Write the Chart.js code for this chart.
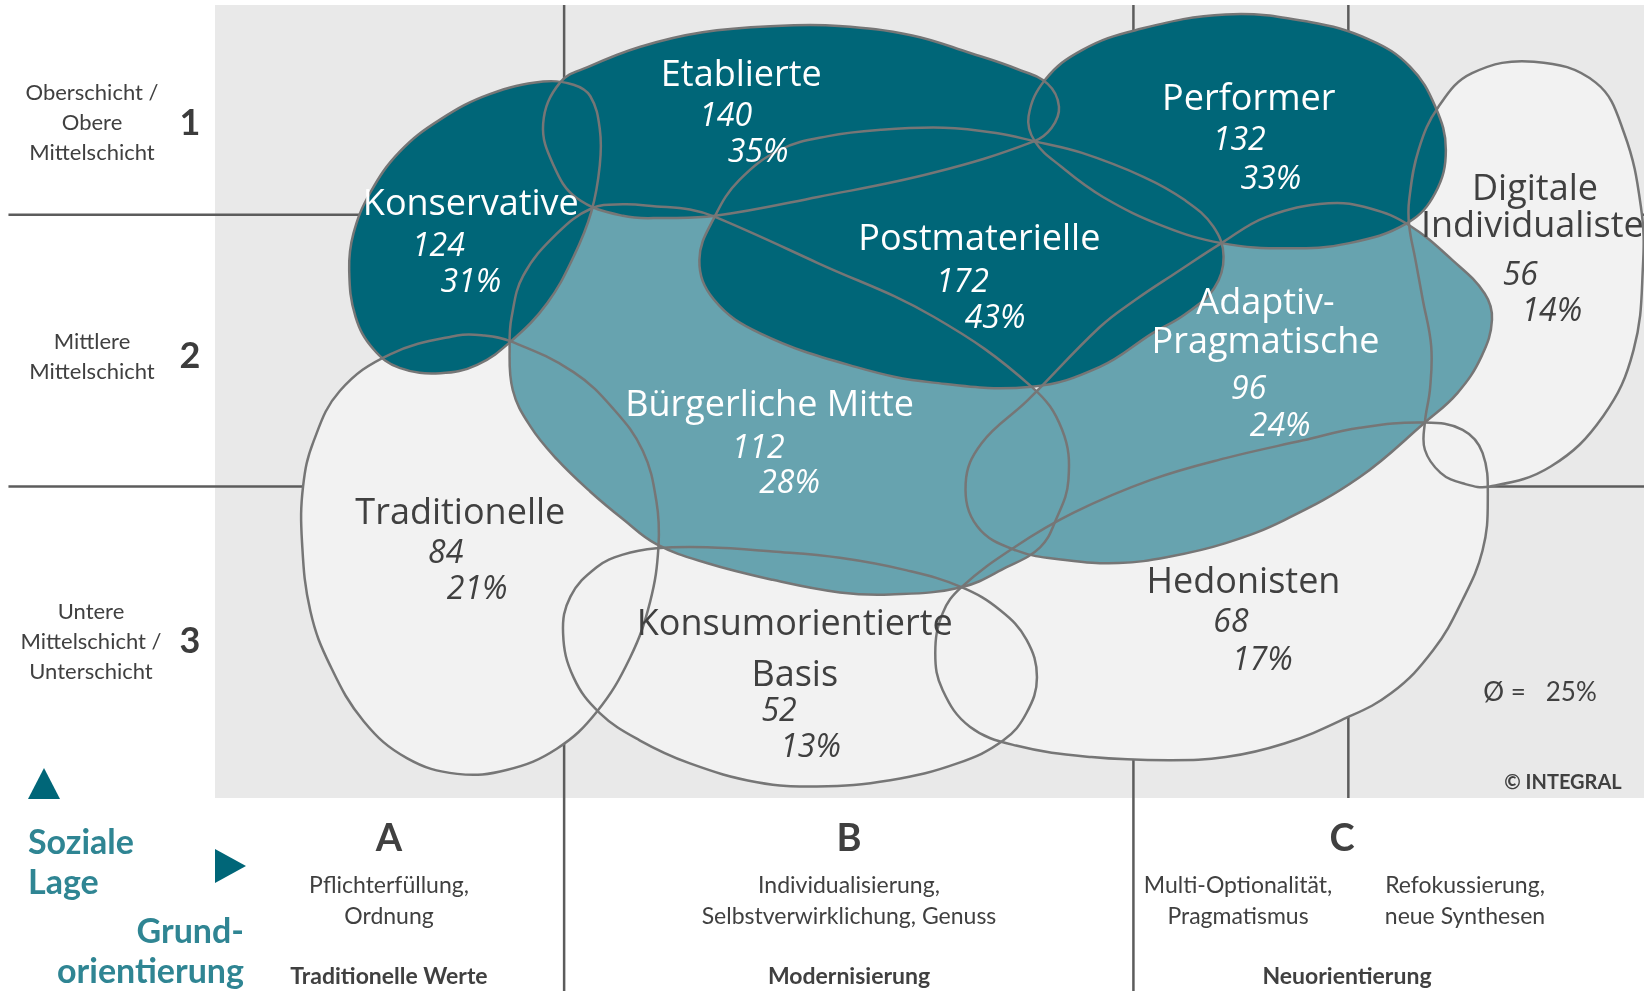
<!DOCTYPE html>
<html lang="de">
<head>
<meta charset="utf-8">
<title>Sinus-Milieus</title>
<script src="https://cdn.jsdelivr.net/npm/chart.js@4.4.1/dist/chart.umd.min.js"></script>
<style>
    html, body { margin: 0; padding: 0; background: #fff; }
    body { width: 1644px; height: 991px; position: relative; overflow: hidden;
           font-family: Lato, "Noto Sans", sans-serif; color: #404040; }
    #milieuChart { position: absolute; left: 0; top: 0; }
    .lbl { position: absolute; transform: translate(-50%, -50%); white-space: nowrap;
           text-align: center; font-size: 22px; line-height: 30px; }
    .desc { font-size: 23px; line-height: 31px; }
    .num { position: absolute; transform: translate(-50%, -50%); font-size: 36px; font-weight: 700; color: #3c3c3c; }
    .head { font-size: 38px; font-weight: 700; line-height: 40px; }
    .bold { font-weight: 700; font-size: 23px; }
    .teal { position: absolute; font-size: 34px; font-weight: 700; color: #2f8593; line-height: 40px; white-space: nowrap; }
    .tri-up { position: absolute; left: 28px; top: 768px; width: 0; height: 0;
              border-left: 16px solid transparent; border-right: 16px solid transparent; border-bottom: 31px solid #006678; }
    .tri-right { position: absolute; left: 215px; top: 849px; width: 0; height: 0;
                 border-top: 17px solid transparent; border-bottom: 17px solid transparent; border-left: 31px solid #006678; }
</style>
</head>
<body>
<canvas id="milieuChart" width="1644" height="991"></canvas>

<!-- Soziale Lage (left) -->
<div class="lbl" style="left:92px; top:122px;">Oberschicht /<br>Obere<br>Mittelschicht</div>
<div class="num" style="left:190px; top:121px;">1</div>
<div class="lbl" style="left:92px; top:356px;">Mittlere<br>Mittelschicht</div>
<div class="num" style="left:190px; top:354px;">2</div>
<div class="lbl" style="left:91px; top:641px;">Untere<br>Mittelschicht /<br>Unterschicht</div>
<div class="num" style="left:190px; top:639px;">3</div>

<div class="tri-up"></div>
<div class="tri-right"></div>
<div class="teal" style="left:28px; top:821px;">Soziale<br>Lage</div>
<div class="teal" style="right:1400px; top:910px; text-align:right;">Grund-<br>orientierung</div>

<!-- Grundorientierung (bottom) -->
<div class="lbl head" style="left:389px; top:836px;">A</div>
<div class="lbl head" style="left:849px; top:836px;">B</div>
<div class="lbl head" style="left:1342px; top:836px;">C</div>
<div class="lbl desc" style="left:389px; top:900px;">Pflichterfüllung,<br>Ordnung</div>
<div class="lbl desc" style="left:849px; top:900px;">Individualisierung,<br>Selbstverwirklichung, Genuss</div>
<div class="lbl desc" style="left:1238px; top:900px;">Multi-Optionalität,<br>Pragmatismus</div>
<div class="lbl desc" style="left:1465px; top:900px;">Refokussierung,<br>neue Synthesen</div>
<div class="lbl bold" style="left:389px; top:975px;">Traditionelle Werte</div>
<div class="lbl bold" style="left:849px; top:975px;">Modernisierung</div>
<div class="lbl bold" style="left:1347px; top:975px;">Neuorientierung</div>

<div class="lbl" style="left:1540px; top:691px; font-size:26px;">Ø =&nbsp;&nbsp;&nbsp;25%</div>
<div class="lbl bold" style="left:1563px; top:781px; font-size:20px;">© INTEGRAL</div>

<script>
// Milieus with case counts and shares
const milieus = ['Konservative', 'Etablierte', 'Performer', 'Postmaterielle', 'Digitale Individualisten',
                 'Adaptiv-Pragmatische', 'Bürgerliche Mitte', 'Traditionelle', 'Konsumorientierte Basis', 'Hedonisten'];
const counts = [124, 140, 132, 172, 56, 96, 112, 84, 52, 68];
const shares = [31, 35, 33, 43, 14, 24, 28, 21, 13, 17];

// Milieu outlines in map coordinates (x: Grundorientierung, y: soziale Lage)
const konservative = [[518,78],[547,81],[563,92],[572,123],[572,158],[564,202],[547,245],[522,289],[488,325],
    [455,348],[420,356],[381,351],[356,333],[339,302],[333,258],[337,223],[353,184],[381,145],[420,114],[467,90]];
const etablierte = [[534,79],[561,64],[610,45],[670,31],[740,25],[800,25],[870,34],[926,51],[970,66],[999,80],
    [1010,102],[1003,122],[986,135],[890,165],[780,188],[682,206],[634,208],[594,206],[550,189],[528,158],[518,118]];
const performer = [[1169,14],[1248,21],[1306,38],[1345,64],[1369,102],[1379,143],[1369,184],[1342,213],[1287,232],
    [1228,237],[1165,232],[1110,216],[1052,188],[1012,159],[987,135],[981,111],[997,76],[1032,48],[1083,29]];
const postmaterielle = [[682,206],[705,172],[744,143],[790,130],[840,124],[900,122],[950,127],[987,135],[1032,146],
    [1091,169],[1130,191],[1157,216],[1167,245],[1158,275],[1130,300],[1099,318],[1049,350],[984,369],[890,365],
    [816,350],[725,318],[681,286],[667,248]];
const digitale = [[1463,59],[1522,79],[1549,127],[1565,197],[1567,254],[1558,334],[1529,397],[1479,445],[1421,464],
    [1395,461],[1374,451],[1359,429],[1359,403],[1364,370],[1365,330],[1357,286],[1350,248],[1344,215],[1344,191],
    [1353,143],[1372,102],[1404,70]];
const adaptiv = [[1165,232],[1208,207],[1267,194],[1307,199],[1344,215],[1385,248],[1416,280],[1423,305],[1413,340],
    [1390,375],[1359,403],[1297,455],[1225,496],[1169,518],[1115,531],[1067,537],[1016,534],[969,525],[932,502],
    [921,461],[936,423],[980,382],[1049,312],[1083,286],[1122,260]];
const buergerliche = [[564,199],[594,195],[626,197],[658,200],[682,207],[780,251],[890,302],[984,369],[1013,410],
    [1019,458],[1007,496],[992,522],[960,541],[917,560],[849,567],[801,565],[737,553],[674,537],[626,519],[594,495],
    [563,469],[531,438],[506,407],[489,372],[486,329],[488,302],[499,263],[531,223]];
const traditionelle = [[436,320],[461,320],[488,326],[547,355],[585,390],[613,430],[626,478],[628,521],[620,574],
    [601,627],[569,679],[531,714],[484,734],[436,738],[388,723],[347,688],[315,635],[296,583],[288,517],[289,464],
    [299,421],[324,373],[372,338]];
const konsum = [[626,523],[674,522],[737,526],[801,532],[865,544],[917,560],[954,582],[979,610],[989,646],[979,680],
    [957,706],[913,728],[849,744],[779,750],[722,746],[658,728],[610,706],[572,680],[547,646],[537,604],[544,569],
    [569,541],[594,529]];
const hedonisten = [[917,560],[969,521],[1024,489],[1097,458],[1169,437],[1243,420],[1297,408],[1359,403],[1395,410],
    [1414,432],[1419,477],[1414,525],[1395,572],[1367,620],[1327,661],[1279,687],[1225,709],[1169,722],[1115,725],
    [1041,722],[969,711],[925,693],[899,658],[892,623],[899,585]];

const outlines = [konservative, etablierte, performer, postmaterielle, digitale,
                  adaptiv, buergerliche, traditionelle, konsum, hedonisten];

// Grid boundaries between A/B/C and 1/2/3
const xBoundaries = [538, 1081, 1286];
const yBoundaries = [205, 464];

// Colours
const darkTeal = '#006678';
const midTeal = '#67a3af';
const lightFill = '#f2f2f2';
const outlineGrey = '#767676';
const gridGrey = '#5c5c5c';
const panelGrey = '#e9e9e9';

// Label placement (name lines, number, share)
const labelLayout = [
    { lines: ['Konservative'], at: [[449,195]], num: [418,236], pct: [449,270] },
    { lines: ['Etablierte'], at: [[707,72]], num: [692,112], pct: [723,146] },
    { lines: ['Performer'], at: [[1191,95]], num: [1182,135], pct: [1212,172] },
    { lines: ['Postmaterielle'], at: [[934,229]], num: [918,270], pct: [949,304] },
    { lines: ['Digitale', 'Individualisten'], at: [[1464,181],[1472,216]], num: [1450,263], pct: [1480,298] },
    { lines: ['Adaptiv-', 'Pragmatische'], at: [[1207,290],[1207,327]], num: [1191,372], pct: [1221,407] },
    { lines: ['Bürgerliche Mitte'], at: [[734,387]], num: [723,428], pct: [753,462] },
    { lines: ['Traditionelle'], at: [[439,490]], num: [425,528], pct: [455,563] },
    { lines: ['Konsumorientierte', 'Basis'], at: [[758,596],[758,644]], num: [743,679], pct: [773,713] },
    { lines: ['Hedonisten'], at: [[1186,556]], num: [1174,594], pct: [1204,630] }
];

function fillFor(share) {
    if (share >= 30) return darkTeal;
    if (share >= 23) return midTeal;
    return lightFill;
}

function layerFor(share) {
    return share >= 30 ? 1 : share >= 23 ? 2 : 3;
}

const toPoints = pts => pts.map(([x, y]) => ({ x, y }));

// Fill layers first, outlines on top of everything
const datasets = [];
milieus.forEach((name, i) => {
    datasets.push({
        label: name,
        data: toPoints(outlines[i]),
        fill: 'shape',
        backgroundColor: fillFor(shares[i]),
        borderWidth: 0,
        order: layerFor(shares[i])
    });
});
milieus.forEach((name, i) => {
    datasets.push({
        label: name + ' outline',
        data: toPoints(outlines[i]),
        fill: false,
        borderColor: outlineGrey,
        borderWidth: 2.5,
        order: 0
    });
});

// Make every line a closed smooth loop
const closedShapes = {
    id: 'closedShapes',
    afterDatasetUpdate(chart, args) {
        const line = args.meta.dataset;
        if (!line) return;
        line._loop = true;
        line._fullLoop = true;
        line._pointsUpdated = false;
        line._path = undefined;
        line._segments = undefined;
    }
};

// Grey panel and the A/B/C, 1/2/3 grid
const backdrop = {
    id: 'backdrop',
    beforeDatasetsDraw(chart) {
        const { ctx, chartArea, scales: { x, y } } = chart;
        ctx.save();
        ctx.fillStyle = panelGrey;
        ctx.fillRect(chartArea.left, chartArea.top, chartArea.right - chartArea.left, chartArea.bottom - chartArea.top);
        ctx.strokeStyle = gridGrey;
        ctx.lineWidth = 2.5;
        yBoundaries.forEach(v => {
            ctx.beginPath();
            ctx.moveTo(x.getPixelForValue(8), y.getPixelForValue(v));
            ctx.lineTo(x.getPixelForValue(1568), y.getPixelForValue(v));
            ctx.stroke();
        });
        xBoundaries.forEach((v, i) => {
            const end = i < 2 ? 945 : 761;
            ctx.beginPath();
            ctx.moveTo(x.getPixelForValue(v), y.getPixelForValue(5));
            ctx.lineTo(x.getPixelForValue(v), y.getPixelForValue(end));
            ctx.stroke();
        });
        ctx.restore();
    }
};

// Milieu names, counts and shares
const milieuLabels = {
    id: 'milieuLabels',
    afterDatasetsDraw(chart) {
        const { ctx, scales: { x, y } } = chart;
        ctx.save();
        ctx.textAlign = 'center';
        ctx.textBaseline = 'middle';
        labelLayout.forEach((lab, i) => {
            ctx.fillStyle = shares[i] >= 23 ? '#ffffff' : '#404040';
            ctx.font = '36px "Open Sans"';
            lab.lines.forEach((t, j) => {
                ctx.fillText(t, x.getPixelForValue(lab.at[j][0]), y.getPixelForValue(lab.at[j][1]));
            });
            ctx.font = 'italic 32px "Open Sans"';
            ctx.fillText(String(counts[i]), x.getPixelForValue(lab.num[0]), y.getPixelForValue(lab.num[1]));
            ctx.fillText(shares[i] + '%', x.getPixelForValue(lab.pct[0]), y.getPixelForValue(lab.pct[1]));
        });
        ctx.restore();
    }
};

document.addEventListener('DOMContentLoaded', () => {
    const ctx = document.getElementById('milieuChart').getContext('2d');
    new Chart(ctx, {
        type: 'line',
        data: { datasets },
        options: {
            responsive: false,
            animation: false,
            events: [],
            layout: { padding: { left: 215, right: 0, top: 5, bottom: 193 } },
            elements: {
                line: { tension: 0.4, capBezierPoints: false },
                point: { radius: 0, hoverRadius: 0 }
            },
            scales: {
                x: { type: 'linear', min: 205, max: 1568, display: false },
                y: { type: 'linear', min: 5, max: 761, reverse: true, display: false }
            },
            plugins: {
                legend: { display: false },
                tooltip: { enabled: false }
            }
        },
        plugins: [closedShapes, backdrop, milieuLabels]
    });
});
</script>
</body>
</html>
